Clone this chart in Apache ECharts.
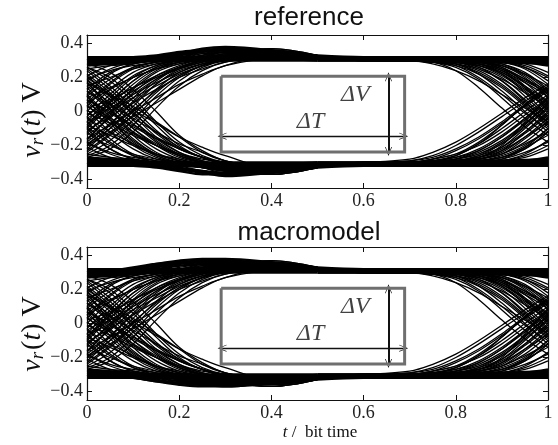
<!DOCTYPE html>
<html>
<head>
<meta charset="utf-8">
<script src="https://cdn.jsdelivr.net/npm/echarts@6/dist/echarts.min.js"></script>
<style>
  html, body { margin: 0; padding: 0; background: #fff; }
  #chart { width: 558px; height: 445px; }
</style>
</head>
<body>
<div id="chart"></div>
<script>
// eye diagrams: reference vs macromodel

const tLeft = [0, 0.05, 0.1, 0.15, 0.2, 0.25, 0.3, 0.4, 0.5];
const tRight = [0.5, 0.6, 0.7, 0.75, 0.8, 0.85, 0.9, 0.95, 1];

const xTicks = [0, 0.2, 0.4, 0.6, 0.8, 1];
const yTicks = [-0.4, -0.2, 0, 0.2, 0.4];
const panelTitles = ['reference', 'macromodel'];

// left half: traces rising into the high level
const riseLeft = [
  [0.21, 0.27, 0.29, 0.30, 0.32, 0.34, 0.35, 0.33, 0.31],
  [0.13, 0.23, 0.28, 0.30, 0.31, 0.32, 0.33, 0.32, 0.31],
  [0.05, 0.13, 0.20, 0.25, 0.29, 0.32, 0.35, 0.34, 0.32],
  [0.05, 0.17, 0.26, 0.29, 0.31, 0.34, 0.36, 0.34, 0.32],
  [0.00, 0.13, 0.23, 0.28, 0.30, 0.31, 0.31, 0.31, 0.31],
  [-0.02, 0.06, 0.14, 0.21, 0.26, 0.30, 0.33, 0.34, 0.32],
  [-0.06, 0.08, 0.20, 0.27, 0.30, 0.32, 0.35, 0.35, 0.32],
  [-0.08, 0.06, 0.18, 0.26, 0.29, 0.31, 0.32, 0.31, 0.31],
  [-0.06, 0.02, 0.10, 0.17, 0.23, 0.28, 0.32, 0.36, 0.33],
  [-0.13, 0.00, 0.13, 0.23, 0.28, 0.30, 0.31, 0.32, 0.31],
  [-0.16, -0.03, 0.11, 0.21, 0.27, 0.31, 0.34, 0.37, 0.33],
  [-0.11, -0.03, 0.05, 0.13, 0.20, 0.25, 0.29, 0.33, 0.32],
  [-0.20, -0.08, 0.06, 0.18, 0.26, 0.30, 0.33, 0.36, 0.32],
  [-0.22, -0.10, 0.03, 0.16, 0.25, 0.29, 0.31, 0.31, 0.31],
  [-0.16, -0.08, 0.00, 0.08, 0.16, 0.22, 0.27, 0.33, 0.32],
  [-0.23, -0.13, 0.00, 0.13, 0.23, 0.28, 0.31, 0.34, 0.32],
  [-0.20, -0.12, -0.03, 0.05, 0.13, 0.21, 0.27, 0.31, 0.31],
  [0.15, 0.20, 0.25, 0.28, 0.30, 0.32, 0.33, 0.32, 0.31],
  [0.25, 0.27, 0.28, 0.30, 0.32, 0.35, 0.37, 0.35, 0.32],
  [-0.25, -0.17, -0.05, 0.09, 0.20, 0.27, 0.30, 0.32, 0.31],
  [-0.27, -0.22, -0.12, 0.02, 0.15, 0.24, 0.29, 0.33, 0.32],
  [0.09, 0.19, 0.26, 0.29, 0.31, 0.33, 0.35, 0.34, 0.32],
  [-0.03, 0.10, 0.21, 0.27, 0.30, 0.31, 0.32, 0.32, 0.31],
  [-0.14, -0.04, 0.08, 0.19, 0.26, 0.30, 0.32, 0.34, 0.32],
  [0.02, 0.07, 0.14, 0.20, 0.25, 0.29, 0.33, 0.37, 0.33],
  [-0.18, -0.07, 0.05, 0.16, 0.24, 0.28, 0.30, 0.31, 0.31],
  [0.19, 0.24, 0.27, 0.29, 0.31, 0.33, 0.34, 0.33, 0.31],
  [-0.10, 0.03, 0.16, 0.25, 0.29, 0.31, 0.33, 0.33, 0.32],
  [-0.24, -0.14, -0.02, 0.11, 0.21, 0.27, 0.31, 0.35, 0.32],
  [0.08, 0.14, 0.20, 0.25, 0.28, 0.31, 0.34, 0.35, 0.32],
  [-0.04, 0.04, 0.12, 0.20, 0.26, 0.30, 0.33, 0.34, 0.32],
  [-0.19, -0.10, 0.01, 0.12, 0.21, 0.27, 0.31, 0.36, 0.33],
  [0.10, 0.22, 0.28, 0.30, 0.31, 0.32, 0.32, 0.32, 0.31],
  [-0.09, 0.05, 0.18, 0.26, 0.30, 0.33, 0.36, 0.36, 0.33],
  [-0.17, -0.02, 0.14, 0.24, 0.29, 0.31, 0.32, 0.32, 0.31],
  [0.03, 0.16, 0.25, 0.29, 0.31, 0.32, 0.33, 0.32, 0.31],
  [-0.12, -0.01, 0.10, 0.19, 0.25, 0.29, 0.32, 0.35, 0.32],
  [-0.26, -0.20, -0.08, 0.06, 0.18, 0.26, 0.30, 0.33, 0.32],
  [0.18, 0.25, 0.29, 0.31, 0.33, 0.35, 0.36, 0.34, 0.32],
  [-0.07, 0.00, 0.08, 0.15, 0.22, 0.27, 0.31, 0.35, 0.33]
];

// left half: traces falling into the low level
const fallLeft = [
  [-0.21, -0.27, -0.29, -0.30, -0.32, -0.33, -0.34, -0.33, -0.31],
  [-0.12, -0.22, -0.28, -0.30, -0.31, -0.33, -0.35, -0.34, -0.31],
  [-0.04, -0.12, -0.19, -0.25, -0.29, -0.32, -0.34, -0.35, -0.32],
  [-0.06, -0.18, -0.26, -0.30, -0.31, -0.32, -0.33, -0.32, -0.31],
  [0.01, -0.12, -0.22, -0.28, -0.30, -0.32, -0.35, -0.36, -0.32],
  [0.03, -0.05, -0.13, -0.20, -0.26, -0.30, -0.33, -0.35, -0.32],
  [0.07, -0.07, -0.19, -0.26, -0.30, -0.31, -0.32, -0.31, -0.31],
  [0.09, -0.05, -0.17, -0.25, -0.29, -0.32, -0.35, -0.37, -0.33],
  [0.07, -0.01, -0.09, -0.16, -0.22, -0.27, -0.31, -0.35, -0.32],
  [0.14, 0.01, -0.12, -0.22, -0.28, -0.31, -0.33, -0.34, -0.32],
  [0.17, 0.04, -0.10, -0.20, -0.27, -0.30, -0.31, -0.31, -0.30],
  [0.12, 0.04, -0.04, -0.12, -0.19, -0.24, -0.29, -0.34, -0.32],
  [0.21, 0.09, -0.05, -0.17, -0.25, -0.30, -0.34, -0.37, -0.33],
  [0.22, 0.11, -0.02, -0.15, -0.24, -0.29, -0.31, -0.32, -0.31],
  [0.17, 0.09, 0.01, -0.07, -0.15, -0.21, -0.26, -0.33, -0.32],
  [0.24, 0.13, 0.00, -0.13, -0.22, -0.27, -0.30, -0.33, -0.31],
  [0.18, 0.10, 0.03, -0.06, -0.15, -0.24, -0.29, -0.33, -0.32],
  [-0.15, -0.20, -0.25, -0.28, -0.30, -0.32, -0.34, -0.33, -0.31],
  [-0.25, -0.27, -0.28, -0.30, -0.32, -0.35, -0.37, -0.35, -0.32],
  [0.26, 0.18, 0.06, -0.08, -0.20, -0.27, -0.30, -0.31, -0.31],
  [0.28, 0.23, 0.13, 0.00, -0.14, -0.23, -0.29, -0.33, -0.32],
  [-0.09, -0.19, -0.26, -0.29, -0.31, -0.33, -0.35, -0.34, -0.31],
  [0.04, -0.09, -0.20, -0.27, -0.30, -0.31, -0.32, -0.32, -0.31],
  [0.15, 0.05, -0.07, -0.18, -0.26, -0.30, -0.32, -0.34, -0.32],
  [-0.01, -0.07, -0.14, -0.20, -0.25, -0.29, -0.33, -0.37, -0.33],
  [0.19, 0.07, -0.05, -0.16, -0.24, -0.28, -0.30, -0.31, -0.30],
  [-0.18, -0.24, -0.27, -0.29, -0.31, -0.33, -0.34, -0.33, -0.31],
  [0.10, -0.03, -0.16, -0.25, -0.29, -0.31, -0.33, -0.33, -0.32],
  [0.25, 0.15, 0.02, -0.11, -0.21, -0.27, -0.31, -0.35, -0.32],
  [-0.08, -0.14, -0.20, -0.25, -0.28, -0.31, -0.34, -0.35, -0.32],
  [0.05, -0.04, -0.12, -0.20, -0.26, -0.30, -0.33, -0.34, -0.32],
  [0.20, 0.10, -0.01, -0.12, -0.21, -0.27, -0.31, -0.36, -0.33],
  [-0.10, -0.22, -0.28, -0.30, -0.31, -0.32, -0.32, -0.32, -0.31],
  [0.09, -0.05, -0.18, -0.26, -0.30, -0.33, -0.36, -0.36, -0.33],
  [0.17, 0.02, -0.14, -0.24, -0.29, -0.31, -0.32, -0.32, -0.31],
  [-0.03, -0.16, -0.25, -0.29, -0.31, -0.32, -0.33, -0.32, -0.31],
  [0.12, 0.01, -0.10, -0.19, -0.25, -0.29, -0.32, -0.35, -0.32],
  [0.26, 0.20, 0.08, -0.06, -0.18, -0.26, -0.30, -0.33, -0.32],
  [-0.18, -0.25, -0.29, -0.31, -0.33, -0.35, -0.36, -0.34, -0.32],
  [0.07, 0.00, -0.08, -0.15, -0.22, -0.27, -0.31, -0.35, -0.33]
];

// left half: traces that stay high / low (reference)
const highLeftRef = [
  [0.27, 0.28, 0.29, 0.30, 0.31, 0.31, 0.31, 0.31, 0.30],
  [0.28, 0.285, 0.29, 0.30, 0.30, 0.30, 0.30, 0.30, 0.30],
  [0.29, 0.29, 0.30, 0.31, 0.33, 0.35, 0.36, 0.34, 0.31],
  [0.30, 0.30, 0.30, 0.30, 0.31, 0.31, 0.31, 0.31, 0.31],
  [0.31, 0.31, 0.31, 0.32, 0.34, 0.37, 0.38, 0.36, 0.32],
  [0.32, 0.32, 0.32, 0.32, 0.32, 0.32, 0.32, 0.32, 0.32],
  [0.30, 0.31, 0.32, 0.33, 0.35, 0.36, 0.37, 0.35, 0.32],
  [0.285, 0.29, 0.295, 0.30, 0.31, 0.32, 0.33, 0.33, 0.32],
  [0.31, 0.30, 0.30, 0.30, 0.30, 0.31, 0.32, 0.33, 0.32],
  [0.275, 0.285, 0.30, 0.32, 0.34, 0.36, 0.37, 0.35, 0.33]
];
const lowLeftRef = [
  [-0.27, -0.28, -0.29, -0.30, -0.31, -0.31, -0.31, -0.31, -0.30],
  [-0.28, -0.285, -0.29, -0.30, -0.30, -0.30, -0.30, -0.30, -0.30],
  [-0.29, -0.29, -0.30, -0.31, -0.33, -0.35, -0.36, -0.35, -0.32],
  [-0.30, -0.30, -0.30, -0.30, -0.31, -0.31, -0.31, -0.31, -0.31],
  [-0.31, -0.31, -0.31, -0.32, -0.34, -0.36, -0.38, -0.36, -0.33],
  [-0.32, -0.32, -0.32, -0.32, -0.32, -0.32, -0.32, -0.32, -0.32],
  [-0.30, -0.31, -0.32, -0.33, -0.35, -0.37, -0.37, -0.35, -0.32],
  [-0.285, -0.29, -0.295, -0.30, -0.31, -0.32, -0.33, -0.33, -0.32],
  [-0.31, -0.30, -0.30, -0.30, -0.30, -0.31, -0.32, -0.33, -0.32],
  [-0.275, -0.285, -0.30, -0.32, -0.34, -0.35, -0.37, -0.36, -0.33]
];

// left half: traces that stay high / low (macromodel)
const highLeftMacro = [
  [0.27, 0.28, 0.30, 0.32, 0.34, 0.35, 0.35, 0.34, 0.32],
  [0.28, 0.285, 0.29, 0.30, 0.30, 0.30, 0.30, 0.30, 0.30],
  [0.29, 0.30, 0.32, 0.35, 0.37, 0.38, 0.38, 0.36, 0.33],
  [0.30, 0.30, 0.30, 0.30, 0.31, 0.31, 0.31, 0.31, 0.31],
  [0.31, 0.31, 0.32, 0.34, 0.36, 0.37, 0.37, 0.35, 0.32],
  [0.32, 0.32, 0.32, 0.32, 0.32, 0.32, 0.32, 0.32, 0.32],
  [0.30, 0.31, 0.33, 0.35, 0.36, 0.37, 0.37, 0.35, 0.33],
  [0.285, 0.29, 0.30, 0.31, 0.32, 0.33, 0.34, 0.33, 0.32],
  [0.31, 0.30, 0.30, 0.30, 0.30, 0.31, 0.32, 0.33, 0.32],
  [0.275, 0.29, 0.31, 0.33, 0.35, 0.36, 0.36, 0.34, 0.32]
];
const lowLeftMacro = [
  [-0.27, -0.28, -0.29, -0.31, -0.33, -0.34, -0.35, -0.34, -0.32],
  [-0.28, -0.285, -0.29, -0.30, -0.30, -0.30, -0.30, -0.30, -0.30],
  [-0.29, -0.30, -0.31, -0.33, -0.35, -0.36, -0.37, -0.35, -0.32],
  [-0.30, -0.30, -0.30, -0.30, -0.31, -0.31, -0.31, -0.31, -0.31],
  [-0.31, -0.31, -0.32, -0.34, -0.36, -0.37, -0.37, -0.35, -0.33],
  [-0.32, -0.32, -0.32, -0.32, -0.32, -0.32, -0.32, -0.32, -0.32],
  [-0.30, -0.31, -0.32, -0.34, -0.35, -0.36, -0.36, -0.34, -0.32],
  [-0.285, -0.29, -0.30, -0.31, -0.32, -0.33, -0.34, -0.33, -0.32],
  [-0.31, -0.30, -0.30, -0.30, -0.30, -0.31, -0.32, -0.33, -0.32],
  [-0.275, -0.29, -0.30, -0.32, -0.34, -0.35, -0.36, -0.34, -0.32]
];

// right half: traces leaving the high level
const fallRight = [
  [0.31, 0.30, 0.30, 0.29, 0.24, 0.14, 0.02, -0.09, -0.18],
  [0.31, 0.31, 0.30, 0.30, 0.28, 0.22, 0.12, 0.00, -0.12],
  [0.32, 0.31, 0.31, 0.30, 0.29, 0.26, 0.18, 0.06, -0.07],
  [0.31, 0.31, 0.30, 0.30, 0.30, 0.28, 0.22, 0.11, -0.03],
  [0.32, 0.31, 0.31, 0.31, 0.30, 0.29, 0.25, 0.15, 0.02],
  [0.31, 0.30, 0.30, 0.30, 0.30, 0.29, 0.27, 0.20, 0.08],
  [0.31, 0.31, 0.31, 0.30, 0.30, 0.30, 0.28, 0.23, 0.13],
  [0.32, 0.32, 0.31, 0.31, 0.31, 0.30, 0.29, 0.26, 0.18],
  [0.31, 0.31, 0.30, 0.30, 0.30, 0.30, 0.30, 0.28, 0.23],
  [0.31, 0.30, 0.30, 0.29, 0.27, 0.20, 0.10, -0.01, -0.10],
  [0.31, 0.30, 0.30, 0.28, 0.24, 0.18, 0.10, 0.02, -0.06],
  [0.32, 0.31, 0.30, 0.30, 0.29, 0.25, 0.19, 0.11, 0.03],
  [0.31, 0.31, 0.31, 0.30, 0.30, 0.28, 0.24, 0.17, 0.09],
  [0.31, 0.30, 0.30, 0.30, 0.29, 0.27, 0.21, 0.12, 0.01],
  [0.32, 0.32, 0.31, 0.31, 0.30, 0.29, 0.26, 0.19, 0.10],
  [0.31, 0.31, 0.30, 0.30, 0.29, 0.28, 0.24, 0.14, 0.00],
  [0.31, 0.31, 0.31, 0.30, 0.30, 0.30, 0.29, 0.25, 0.16],
  [0.31, 0.30, 0.30, 0.29, 0.28, 0.24, 0.16, 0.05, -0.06],
  [0.32, 0.31, 0.31, 0.31, 0.30, 0.28, 0.23, 0.14, 0.05],
  [0.31, 0.31, 0.30, 0.30, 0.30, 0.29, 0.27, 0.22, 0.15],
  [0.31, 0.31, 0.30, 0.30, 0.29, 0.26, 0.20, 0.09, -0.04],
  [0.32, 0.31, 0.31, 0.30, 0.30, 0.29, 0.26, 0.17, 0.05],
  [0.31, 0.31, 0.30, 0.30, 0.29, 0.27, 0.22, 0.13, 0.04],
  [0.32, 0.31, 0.31, 0.30, 0.30, 0.30, 0.29, 0.27, 0.21],
  [0.31, 0.30, 0.30, 0.29, 0.27, 0.22, 0.14, 0.03, -0.09],
  [0.31, 0.31, 0.31, 0.30, 0.30, 0.29, 0.25, 0.18, 0.11],
  [0.31, 0.31, 0.30, 0.30, 0.28, 0.23, 0.15, 0.04, -0.08],
  [0.32, 0.31, 0.31, 0.31, 0.30, 0.30, 0.28, 0.22, 0.12],
  [0.31, 0.30, 0.30, 0.29, 0.26, 0.19, 0.08, -0.04, -0.14],
  [0.31, 0.31, 0.31, 0.30, 0.30, 0.29, 0.27, 0.21, 0.10],
  [0.32, 0.31, 0.30, 0.30, 0.29, 0.27, 0.23, 0.15, 0.06],
  [0.31, 0.31, 0.30, 0.30, 0.30, 0.30, 0.29, 0.26, 0.20],
  [0.31, 0.30, 0.30, 0.30, 0.28, 0.25, 0.18, 0.07, -0.05],
  [0.32, 0.31, 0.31, 0.30, 0.30, 0.28, 0.25, 0.19, 0.12]
];

// right half: traces leaving the low level
const riseRight = [
  [-0.31, -0.30, -0.28, -0.24, -0.18, -0.10, -0.01, 0.08, 0.16],
  [-0.31, -0.31, -0.30, -0.28, -0.23, -0.16, -0.07, 0.03, 0.12],
  [-0.32, -0.31, -0.30, -0.29, -0.27, -0.22, -0.14, -0.04, 0.07],
  [-0.31, -0.31, -0.30, -0.30, -0.28, -0.25, -0.19, -0.09, 0.03],
  [-0.32, -0.31, -0.31, -0.30, -0.29, -0.27, -0.22, -0.13, -0.02],
  [-0.31, -0.30, -0.30, -0.30, -0.30, -0.28, -0.25, -0.18, -0.07],
  [-0.31, -0.31, -0.31, -0.30, -0.30, -0.29, -0.27, -0.22, -0.12],
  [-0.32, -0.32, -0.31, -0.31, -0.31, -0.30, -0.29, -0.25, -0.17],
  [-0.31, -0.31, -0.30, -0.30, -0.30, -0.30, -0.29, -0.27, -0.22],
  [-0.31, -0.30, -0.29, -0.27, -0.22, -0.15, -0.06, 0.04, 0.13],
  [-0.32, -0.31, -0.30, -0.28, -0.25, -0.20, -0.12, -0.02, 0.08],
  [-0.31, -0.31, -0.30, -0.29, -0.28, -0.24, -0.17, -0.07, 0.04],
  [-0.31, -0.30, -0.30, -0.30, -0.29, -0.27, -0.21, -0.10, 0.02],
  [-0.32, -0.31, -0.31, -0.30, -0.30, -0.28, -0.24, -0.15, -0.04],
  [-0.31, -0.31, -0.30, -0.30, -0.29, -0.26, -0.19, -0.08, 0.05],
  [-0.31, -0.30, -0.30, -0.29, -0.27, -0.23, -0.15, -0.05, 0.06],
  [-0.32, -0.31, -0.31, -0.31, -0.30, -0.29, -0.26, -0.20, -0.10],
  [-0.31, -0.31, -0.30, -0.30, -0.29, -0.28, -0.23, -0.12, 0.00],
  [-0.31, -0.30, -0.29, -0.26, -0.20, -0.12, -0.03, 0.06, 0.14],
  [-0.32, -0.31, -0.30, -0.29, -0.26, -0.19, -0.10, 0.00, 0.10],
  [-0.31, -0.31, -0.31, -0.30, -0.30, -0.29, -0.27, -0.21, -0.14],
  [-0.31, -0.31, -0.30, -0.30, -0.29, -0.27, -0.20, -0.06, 0.09],
  [-0.32, -0.31, -0.30, -0.30, -0.29, -0.26, -0.21, -0.12, -0.01],
  [-0.31, -0.31, -0.31, -0.30, -0.30, -0.30, -0.28, -0.24, -0.18],
  [-0.31, -0.30, -0.30, -0.28, -0.25, -0.18, -0.08, 0.04, 0.15],
  [-0.32, -0.31, -0.31, -0.30, -0.30, -0.28, -0.25, -0.16, -0.06],
  [-0.31, -0.31, -0.30, -0.30, -0.28, -0.23, -0.15, -0.04, 0.08],
  [-0.32, -0.31, -0.31, -0.31, -0.30, -0.30, -0.28, -0.22, -0.12],
  [-0.31, -0.30, -0.30, -0.29, -0.26, -0.19, -0.08, 0.04, 0.14],
  [-0.31, -0.31, -0.31, -0.30, -0.30, -0.29, -0.27, -0.21, -0.10],
  [-0.32, -0.31, -0.30, -0.30, -0.29, -0.27, -0.23, -0.15, -0.06],
  [-0.31, -0.31, -0.30, -0.30, -0.30, -0.30, -0.29, -0.26, -0.20],
  [-0.31, -0.30, -0.30, -0.30, -0.28, -0.25, -0.18, -0.07, 0.05],
  [-0.32, -0.31, -0.31, -0.30, -0.30, -0.28, -0.25, -0.19, -0.12]
];

// right half: traces that stay high / low
const highRight = [
  [0.31, 0.31, 0.31, 0.31, 0.31, 0.31, 0.31, 0.31, 0.31],
  [0.32, 0.32, 0.32, 0.32, 0.32, 0.32, 0.32, 0.32, 0.32],
  [0.30, 0.30, 0.30, 0.30, 0.30, 0.30, 0.30, 0.30, 0.30],
  [0.31, 0.305, 0.30, 0.295, 0.29, 0.29, 0.29, 0.29, 0.29],
  [0.32, 0.315, 0.31, 0.31, 0.31, 0.31, 0.31, 0.305, 0.30],
  [0.33, 0.32, 0.32, 0.32, 0.32, 0.32, 0.315, 0.31, 0.31],
  [0.30, 0.30, 0.30, 0.30, 0.30, 0.295, 0.29, 0.285, 0.28],
  [0.31, 0.31, 0.31, 0.31, 0.31, 0.305, 0.30, 0.29, 0.27]
];
const lowRight = [
  [-0.31, -0.31, -0.31, -0.31, -0.31, -0.31, -0.31, -0.31, -0.31],
  [-0.32, -0.32, -0.32, -0.32, -0.32, -0.32, -0.32, -0.32, -0.32],
  [-0.30, -0.30, -0.30, -0.30, -0.30, -0.30, -0.30, -0.30, -0.30],
  [-0.31, -0.305, -0.30, -0.295, -0.29, -0.29, -0.29, -0.29, -0.29],
  [-0.32, -0.315, -0.31, -0.31, -0.31, -0.31, -0.31, -0.305, -0.30],
  [-0.33, -0.32, -0.32, -0.32, -0.32, -0.32, -0.315, -0.31, -0.31],
  [-0.30, -0.30, -0.30, -0.30, -0.30, -0.295, -0.29, -0.285, -0.28],
  [-0.31, -0.31, -0.31, -0.31, -0.31, -0.305, -0.30, -0.29, -0.27]
];

// eye opening box and arrows (data units)
const boxT = [0.291, 0.689];
const boxV = [-0.238, 0.207];
const arrowT = { v: -0.145, from: 0.293, to: 0.687 };
const arrowV = { t: 0.654, from: 0.205, to: -0.236 };
const labelDV = [0.582, 0.096];
const labelDT = [0.485, -0.06];

const serif = 'Liberation Serif';
const sans = 'Liberation Sans';
const fmtNum = v => (v < 0 ? '\u2212' : '') + String(Math.abs(v));

function traces(times, rows, gi, width) {
  return rows.map(r => ({
    type: 'line',
    xAxisIndex: gi,
    yAxisIndex: gi,
    data: r.map((v, i) => [times[i], v]),
    symbol: 'none',
    smooth: 0.35,
    silent: true,
    lineStyle: { color: '#000', width: width },
    z: 2
  }));
}

const arrowHead = 'path://M0,10 L5,0 L10,10 L9,10 L5,2 L1,10 Z';

function annotations(gi) {
  return [{
    type: 'line',
    xAxisIndex: gi,
    yAxisIndex: gi,
    data: [[boxT[0], boxV[1]], [boxT[1], boxV[1]], [boxT[1], boxV[0]], [boxT[0], boxV[0]], [boxT[0], boxV[1]]],
    symbol: 'none',
    silent: true,
    lineStyle: { color: '#6f6f6f', width: 3, join: 'miter' },
    z: 5,
    markLine: {
      silent: true,
      symbol: [arrowHead, arrowHead],
      symbolSize: [7, 9],
      label: { show: false },
      lineStyle: { color: '#111', type: 'solid' },
      data: [
        [{ coord: [arrowT.from, arrowT.v], lineStyle: { width: 1.3 } }, { coord: [arrowT.to, arrowT.v] }],
        [{ coord: [arrowV.t, arrowV.from], lineStyle: { width: 2 } }, { coord: [arrowV.t, arrowV.to] }]
      ]
    }
  }, {
    type: 'scatter',
    xAxisIndex: gi,
    yAxisIndex: gi,
    symbolSize: 0,
    silent: true,
    z: 6,
    data: [
      { value: labelDV, name: '\u0394V' },
      { value: labelDT, name: '\u0394T' }
    ],
    label: {
      show: true,
      position: 'inside',
      formatter: p => p.name,
      fontFamily: serif,
      fontStyle: 'italic',
      fontSize: 24,
      color: '#111'
    }
  }];
}

const grids = [
  { left: 87, top: 35, width: 461, height: 153 },
  { left: 87, top: 247, width: 461, height: 153 }
];

const tickStyle = { show: true, inside: true, length: 5, lineStyle: { color: '#111', width: 1 } };
const lineStyleAxis = { show: true, onZero: false, lineStyle: { color: '#111', width: 1.2 } };
const tickText = {
  margin: 4,
  formatter: v => '{a|' + fmtNum(v) + '}',
  rich: { a: { fontFamily: serif, fontSize: 18, color: '#222' } }
};

const xAxes = [];
const yAxes = [];
[0, 1].forEach(gi => {
  xAxes.push({
    type: 'value', gridIndex: gi, min: 0, max: 1, position: 'bottom',
    axisLine: lineStyleAxis,
    axisTick: Object.assign({ customValues: xTicks }, tickStyle),
    axisLabel: Object.assign({ customValues: xTicks }, tickText),
    splitLine: { show: false }
  });
  yAxes.push({
    type: 'value', gridIndex: gi, min: -0.45, max: 0.45, position: 'left',
    axisLine: lineStyleAxis,
    axisTick: Object.assign({ customValues: yTicks }, tickStyle),
    axisLabel: Object.assign({ customValues: yTicks }, tickText),
    splitLine: { show: false }
  });
});
[0, 1].forEach(gi => {
  xAxes.push({
    type: 'value', gridIndex: gi, min: 0, max: 1, position: 'top',
    axisLine: lineStyleAxis,
    axisTick: Object.assign({ customValues: xTicks }, tickStyle),
    axisLabel: { show: false },
    splitLine: { show: false }
  });
  yAxes.push({
    type: 'value', gridIndex: gi, min: -0.45, max: 0.45, position: 'right',
    axisLine: lineStyleAxis,
    axisTick: Object.assign({ customValues: yTicks }, tickStyle),
    axisLabel: { show: false },
    splitLine: { show: false }
  });
});

const panels = [
  { high: highLeftRef, low: lowLeftRef },
  { high: highLeftMacro, low: lowLeftMacro }
];

let series = [];
panels.forEach((p, gi) => {
  series = series.concat(
    traces(tLeft, riseLeft, gi, 1.3),
    traces(tLeft, fallLeft, gi, 1.3),
    traces(tLeft, p.high, gi, 2.4),
    traces(tLeft, p.low, gi, 2.4),
    traces(tRight, fallRight, gi, 1.3),
    traces(tRight, riseRight, gi, 1.3),
    traces(tRight, highRight, gi, 2.4),
    traces(tRight, lowRight, gi, 2.4),
    annotations(gi)
  );
});

const yLabelRich = {
  i: { fontFamily: serif, fontStyle: 'italic', fontSize: 28, lineHeight: 34, verticalAlign: 'bottom' },
  s: { fontFamily: serif, fontStyle: 'italic', fontSize: 19, lineHeight: 26, verticalAlign: 'bottom', padding: [0, 2, 0, 0] },
  n: { fontFamily: serif, fontSize: 28, lineHeight: 34, verticalAlign: 'bottom' }
};

function yLabel(cy) {
  return {
    type: 'text',
    x: 30,
    y: cy,
    rotation: Math.PI / 2,
    style: {
      text: '{i|v}{s|r}{n|(}{i|t}{n|) V}',
      rich: yLabelRich,
      fill: '#111',
      align: 'center',
      verticalAlign: 'middle'
    }
  };
}

const chart = echarts.init(document.getElementById('chart'), null, { renderer: 'canvas' });
chart.setOption({
  animation: false,
  backgroundColor: '#fff',
  textStyle: { fontFamily: serif },
  grid: grids,
  xAxis: xAxes,
  yAxis: yAxes,
  series: series,
  graphic: [
    { type: 'text', x: 309, y: 18, style: { text: panelTitles[0], fontFamily: sans, fontSize: 26, fill: '#111', align: 'center', verticalAlign: 'middle' } },
    { type: 'text', x: 309, y: 233, style: { text: panelTitles[1], fontFamily: sans, fontSize: 26, fill: '#111', align: 'center', verticalAlign: 'middle' } },
    yLabel(120),
    yLabel(334),
    {
      type: 'text', x: 320, y: 433,
      style: {
        text: '{i|t}{n| /  bit time}',
        rich: {
          i: { fontFamily: serif, fontStyle: 'italic', fontSize: 17 },
          n: { fontFamily: serif, fontSize: 17 }
        },
        fill: '#111', align: 'center', verticalAlign: 'middle'
      }
    }
  ]
});
window.addEventListener('resize', () => chart.resize());
</script>
</body>
</html>
